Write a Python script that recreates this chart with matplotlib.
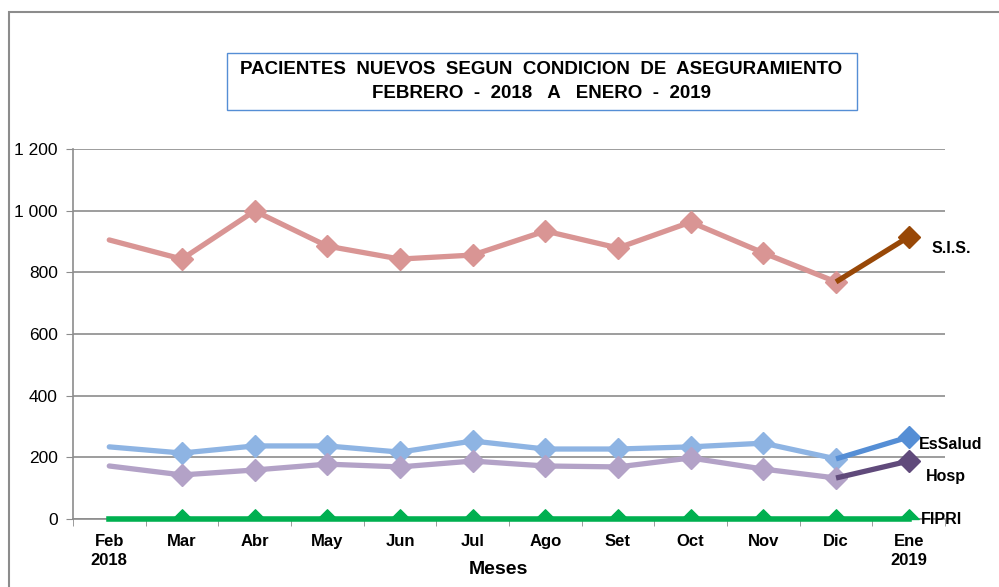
import matplotlib.pyplot as plt
import matplotlib.ticker as mtick
from matplotlib.patches import Rectangle

plt.rcParams['font.family'] = ['Liberation Sans', 'DejaVu Sans']

meses = ['Feb\n2018', 'Mar', 'Abr', 'May', 'Jun', 'Jul', 'Ago', 'Set', 'Oct', 'Nov', 'Dic', 'Ene\n2019']

sis = [905, 843, 999, 885, 843, 856, 934, 879, 963, 863, 769, 915]
essalud = [234, 214, 237, 237, 217, 253, 227, 227, 234, 246, 195, 266]
hosp = [172, 143, 159, 178, 169, 188, 172, 169, 198, 162, 133, 188]
fipri = [0, 0, 0, 0, 0, 0, 0, 0, 0, 0, 0, 0]

series = [
    # name, values, light colour, last segment colour, label x, label y
    ('S.I.S.', sis, '#D99594', '#984807', 11.31, 876),
    ('EsSalud', essalud, '#8EB4E3', '#558ED5', 11.14, 243),
    ('Hosp', hosp, '#B3A2C7', '#604A7B', 11.24, 139),
    ('FIPRI', fipri, '#00B050', '#00B050', 11.17, -3),
]

# the zero series sits on the axis: only the top half of its diamond shows
half_diamond = [(-1, 0), (0, 1), (1, 0), (-1, 0)]

fig = plt.figure(figsize=(9.99, 5.87), dpi=100)
ax = fig.add_axes([0.073, 0.1158, 0.873, 0.6304])

# outer chart border (only left/top visible in the reference)
fig.patches.append(Rectangle((0.009, -0.1), 1.1, 0.1 + 1 - 12/587, transform=fig.transFigure,
                             fill=False, edgecolor='#8c8c8c', linewidth=1.5))

x = list(range(len(meses)))
for name, vals, c1, c2, lx, ly in series:
    if max(vals) == 0:
        ax.plot(x, vals, color=c1, linewidth=4, clip_on=False, zorder=3)
        ax.plot(x[1:], vals[1:], color=c1, linestyle='none', marker=half_diamond,
                markersize=14, clip_on=False, zorder=3)
    else:
        ax.plot(x[:11], vals[:11], color=c1, linewidth=3.8, solid_capstyle='round',
                marker='D', markersize=11, markevery=list(range(1, 11)), zorder=3)
        ax.plot(x[10:], vals[10:], color=c2, linewidth=3.8, solid_capstyle='butt', zorder=3)
        ax.plot(x[11:], vals[11:], color=c2, linestyle='none', marker='D', markersize=11, zorder=4)
    ax.text(lx, ly, name, fontsize=11.5, fontweight='bold', va='center', ha='left',
            clip_on=False, zorder=5)

ax.set_xlim(-0.5, 11.5)
ax.set_ylim(0, 1200)
ax.yaxis.set_major_locator(mtick.MultipleLocator(200))
ax.yaxis.set_major_formatter(mtick.FuncFormatter(lambda v, p: f'{int(v):,}'.replace(',', ' ')))
ax.grid(axis='y', color='#8c8c8c', linewidth=1.2, zorder=0)

ax.set_xticks(x)
ax.set_xticklabels(meses, fontweight='bold', fontsize=12, linespacing=1.3)
ax.set_xticks([i - 0.5 for i in range(13)], minor=True)
ax.tick_params(axis='x', which='major', length=0, pad=11)
ax.tick_params(axis='x', which='minor', length=5, color='#8c8c8c')
ax.tick_params(axis='y', length=5, color='#8c8c8c', labelsize=12.5, pad=6)

for s in ['top', 'right']:
    ax.spines[s].set_visible(False)
for s in ['left', 'bottom']:
    ax.spines[s].set_color('#8c8c8c')
    ax.spines[s].set_linewidth(1.2)

ax.set_xlabel('Meses', fontsize=14, fontweight='bold', labelpad=0)
ax.xaxis.set_label_coords(0.488, -0.113)

# title box
fig.patches.append(Rectangle((227/999, 1 - 110/587), 630/999, 57/587, transform=fig.transFigure,
                             facecolor='white', edgecolor='#558ED5', linewidth=1))
fig.text(0.542, 1 - 70/587, 'PACIENTES  NUEVOS  SEGUN  CONDICION  DE  ASEGURAMIENTO',
         ha='center', va='center', fontsize=13.5, fontweight='bold')
fig.text(0.542, 1 - 94/587, 'FEBRERO  -  2018   A   ENERO  -  2019',
         ha='center', va='center', fontsize=13.5, fontweight='bold')

plt.savefig('out.png', dpi=100)
